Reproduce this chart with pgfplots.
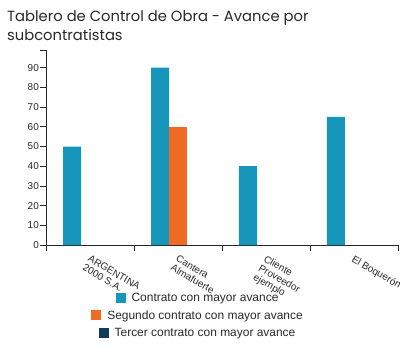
\documentclass[border=0pt]{standalone}
\usepackage{pgfplots}
\pgfplotsset{compat=1.18}
\usepackage{fontspec}
\setmainfont{Liberation Sans}
\newfontfamily\titlefont{Poppins}
\definecolor{c1}{RGB}{22,150,186}
\definecolor{c2}{RGB}{240,106,35}
\definecolor{c3}{RGB}{16,60,90}
\definecolor{axcol}{RGB}{40,40,40}
\begin{document}
\begin{tikzpicture}
\begin{axis}[
  at={(46bp,-245bp)}, anchor=south west,
  scale only axis, width=352bp, height=195bp,
  xmin=0, xmax=4, ymin=0, ymax=99,
  axis lines*=left,
  axis line style={axcol, line width=0.8bp},
  tick style={axcol, line width=0.8bp},
  major tick length=6bp,
  tick align=outside,
  xtick={0,1,2,3,4}, xticklabels={},
  extra x ticks={0.5,1.5,2.5,3.5},
  extra x tick labels={ARGENTINA\\2000 S.A.,Cantera\\Almafuerte,Cliente\\Proveedor\\ejemplo,El Boquerón},
  extra x tick style={major tick length=0pt, tick label style={rotate=-30, anchor=north west, align=left, inner sep=0pt, xshift=5.4bp, yshift=-8bp, font=\fontsize{10}{10.5}\selectfont, text=axcol}},
  ytick={0,10,...,90},
  extra y ticks={99}, extra y tick labels={},
  yticklabel style={font=\fontsize{10}{11}\selectfont, text=axcol, inner sep=1bp},
  /pgf/number format/assume math mode=true,
  legend style={at={(0.429,0)}, anchor=north, yshift=-44bp, draw=none, fill=none,
    font=\fontsize{12}{14}\selectfont, row sep=3bp,
    nodes={inner sep=1bp, text height=9.5bp, text depth=3bp, text=axcol}},
  legend cell align=center,
]
\addplot[ybar, bar width=18bp, bar shift=-18bp, fill=c1, draw=none, forget plot]
  coordinates {(0.5,50) (1.5,90) (2.5,40) (3.5,65)};
\addplot[ybar, bar width=18bp, bar shift=0bp, fill=c2, draw=none, forget plot]
  coordinates {(1.5,60)};
\addlegendimage{empty legend}
\addlegendentry{\textcolor{c1}{\rule[-1bp]{10bp}{10bp}}\hspace{6bp}Contrato con mayor avance}
\addlegendimage{empty legend}
\addlegendentry{\textcolor{c2}{\rule[-1bp]{10bp}{10bp}}\hspace{6bp}Segundo contrato con mayor avance}
\addlegendimage{empty legend}
\addlegendentry{\textcolor{c3}{\rule[-1bp]{10bp}{10bp}}\hspace{6bp}Tercer contrato con mayor avance}
\end{axis}
\node[anchor=base west, inner sep=0pt, text=axcol,
  font=\titlefont\fontsize{14.8}{19}\selectfont] at (7bp,-21bp)
  {Tablero de Control de Obra - Avance por};
\node[anchor=base west, inner sep=0pt, text=axcol,
  font=\titlefont\fontsize{14.8}{19}\selectfont] at (7bp,-40bp)
  {subcontratistas};
\pgfresetboundingbox
\path[use as bounding box] (0,0) rectangle (406bp,-355bp);
\end{tikzpicture}
\end{document}
